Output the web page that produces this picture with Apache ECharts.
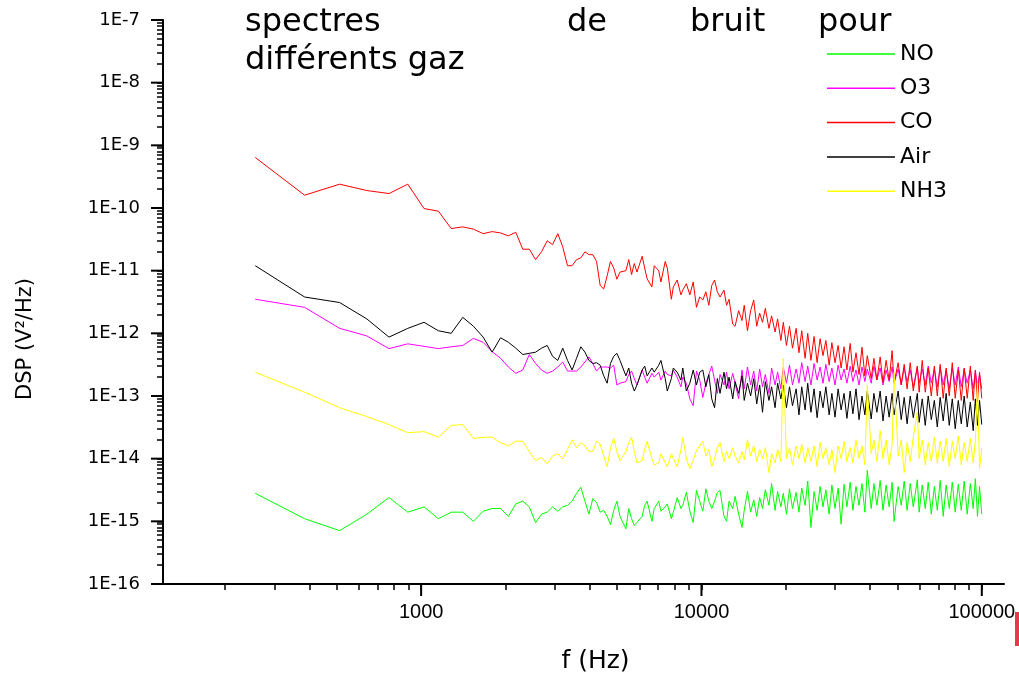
<!DOCTYPE html>
<html lang="fr">
<head>
<meta charset="UTF-8">
<title>spectres de bruit pour différents gaz</title>
<script src="https://cdn.jsdelivr.net/npm/echarts@6/dist/echarts.min.js"></script>
<style>html,body{margin:0;padding:0;background:#fff;}</style>
</head>
<body>
<div id="main" style="width:1019px;height:674px;"></div>
<script>
// frequency bins (Hz), 128 Hz resolution, thinned at high frequency
var freqs = [
  256, 384, 512, 640, 768, 896, 1024, 1152, 1280, 1408,
  1536, 1664, 1792, 1920, 2048, 2176, 2304, 2432, 2560, 2688,
  2816, 2944, 3072, 3200, 3328, 3456, 3584, 3712, 3840, 3968,
  4096, 4224, 4352, 4480, 4608, 4736, 4864, 4992, 5120,
  5376, 5504, 5632, 5760, 5888, 6144, 6272, 6400, 6656, 6784,
  7040, 7168, 7424, 7552, 7808, 7936, 8192, 8448, 8576, 8832,
  9088, 9344, 9600, 9856, 10112, 10368, 10624, 10880, 11136, 11392,
  11648, 12032, 12288, 12544, 12928, 13184, 13568, 13952, 14208, 14592,
  14976, 15360, 15744, 16128, 16512, 16896, 17408, 17792, 18304, 18688,
  19200, 19584, 20096, 20608, 21120, 21760, 22272, 22784, 23424, 23936,
  24576, 25216, 25856, 26496, 27136, 27776, 28544, 29184, 29952, 30720,
  31488, 32256, 33024, 33920, 34688, 35584, 36480, 37376, 38272, 39040,
  40320, 41216, 42240, 43392, 44416, 45568, 46720, 47872, 48640, 50304,
  51584, 52864, 54144, 55552, 56960, 58880, 59776, 61312, 62848, 64384,
  66048, 67712, 69376, 71040, 72832, 74624, 76544, 78464, 80384, 82432,
  84480, 86528, 88704, 91008, 93184, 94848, 96512, 98176, 99968
];

// DSP (V²/Hz) per gas, same order as freqs
var no = [
  2.8e-15, 1.1e-15, 7.1e-16, 1.3e-15, 2.4e-15, 1.4e-15, 1.7e-15, 1.1e-15, 1.4e-15, 1.4e-15,
  1.0e-15, 1.45e-15, 1.6e-15, 1.6e-15, 1.2e-15, 1.9e-15, 2.1e-15, 1.7e-15, 9.5e-16, 1.3e-15,
  1.4e-15, 1.7e-15, 1.45e-15, 1.7e-15, 1.8e-15, 2.1e-15, 2.8e-15, 3.5e-15, 2.1e-15, 1.3e-15,
  2.3e-15, 2.0e-15, 1.4e-15, 1.5e-15, 1.2e-15, 8.9e-16, 1.5e-15, 2.1e-15, 1.2e-15,
  7.6e-16, 1.6e-15, 1.1e-15, 8.6e-16, 9.6e-16, 1.2e-15, 1.8e-15, 2.1e-15, 1.0e-15, 1.6e-15,
  2.1e-15, 1.45e-15, 1.7e-15, 1.9e-15, 1.1e-15, 1.4e-15, 2.4e-15, 1.6e-15, 1.8e-15, 2.9e-15,
  1.45e-15, 9.6e-16, 3.1e-15, 2.1e-15, 1.45e-15, 3.3e-15, 2.1e-15, 1.6e-15, 2.1e-15, 2.9e-15,
  3.1e-15, 1.2e-15, 1.0e-15, 2.1e-15, 1.6e-15, 2.5e-15, 1.3e-15, 8.0e-16, 1.5e-15, 3.0e-15,
  1.4e-15, 2.2e-15, 1.2e-15, 2.4e-15, 1.6e-15, 3.2e-15, 1.8e-15, 4.0e-15, 1.5e-15, 3.0e-15,
  1.7e-15, 2.8e-15, 1.3e-15, 3.3e-15, 1.6e-15, 2.9e-15, 1.4e-15, 3.4e-15, 1.8e-15, 4.4e-15,
  8.0e-16, 3.0e-15, 1.5e-15, 3.6e-15, 1.7e-15, 3.2e-15, 1.3e-15, 3.8e-15, 1.6e-15, 3.4e-15,
  9.0e-16, 3.9e-15, 1.7e-15, 4.2e-15, 1.5e-15, 3.6e-15, 1.8e-15, 4.0e-15, 1.4e-15, 6.5e-15,
  1.6e-15, 4.0e-15, 1.8e-15, 4.5e-15, 1.5e-15, 3.8e-15, 1.7e-15, 4.2e-15, 1.0e-15, 3.6e-15,
  1.8e-15, 4.4e-15, 1.5e-15, 4.0e-15, 1.7e-15, 4.6e-15, 1.4e-15, 3.8e-15, 1.6e-15, 4.2e-15,
  1.3e-15, 3.6e-15, 1.5e-15, 4.5e-15, 1.2e-15, 3.8e-15, 1.6e-15, 4.2e-15, 1.4e-15, 3.9e-15,
  1.5e-15, 4.4e-15, 1.3e-15, 4.0e-15, 1.6e-15, 4.8e-15, 1.2e-15, 3.6e-15, 1.3e-15
];
var o3 = [
  3.5e-12, 2.6e-12, 1.2e-12, 9.1e-13, 5.7e-13, 6.8e-13, 6.2e-13, 5.7e-13, 6.1e-13, 6.4e-13,
  8.3e-13, 7.2e-13, 5.1e-13, 4.0e-13, 2.9e-13, 2.3e-13, 2.6e-13, 4.6e-13, 3.3e-13, 2.6e-13,
  2.3e-13, 2.5e-13, 2.9e-13, 3.5e-13, 2.5e-13, 2.5e-13, 2.5e-13, 2.9e-13, 3.5e-13, 4.2e-13,
  3.3e-13, 2.5e-13, 2.9e-13, 2.9e-13, 2.9e-13, 2.8e-13, 3.1e-13, 1.5e-13, 1.6e-13,
  1.7e-13, 2.2e-13, 2.5e-13, 1.9e-13, 1.5e-13, 2.6e-13, 2.0e-13, 1.6e-13, 2.3e-13, 2.0e-13,
  2.4e-13, 1.8e-13, 2.5e-13, 2.2e-13, 2.1e-13, 2.6e-13, 2.0e-13, 1.4e-13, 2.0e-13, 1.6e-13,
  9.0e-14, 7.0e-14, 2.5e-13, 1.8e-13, 9.5e-14, 1.6e-13, 2.2e-13, 3.0e-13, 1.8e-13, 1.1e-13,
  2.2e-13, 1.5e-13, 2.4e-13, 1.3e-13, 2.3e-13, 1.6e-13, 9.0e-14, 2.6e-13, 1.3e-13, 2.9e-13,
  1.5e-13, 2.5e-13, 1.2e-13, 2.7e-13, 1.4e-13, 2.2e-13, 1.1e-13, 2.8e-13, 1.5e-13, 2.4e-13,
  1.3e-13, 2.9e-13, 1.6e-13, 3.1e-13, 1.5e-13, 2.7e-13, 1.6e-13, 3.4e-13, 1.7e-13, 3.0e-13,
  1.5e-13, 3.3e-13, 1.8e-13, 2.9e-13, 1.6e-13, 3.2e-13, 1.7e-13, 2.8e-13, 1.5e-13, 3.1e-13,
  1.8e-13, 2.7e-13, 1.6e-13, 3.0e-13, 1.7e-13, 2.6e-13, 1.5e-13, 2.9e-13, 1.7e-13, 2.7e-13,
  1.6e-13, 3.0e-13, 1.8e-13, 2.8e-13, 1.5e-13, 2.6e-13, 1.7e-13, 2.9e-13, 1.6e-13, 2.7e-13,
  1.5e-13, 2.8e-13, 1.7e-13, 2.6e-13, 1.4e-13, 2.9e-13, 1.6e-13, 2.7e-13, 1.5e-13, 3.0e-13,
  1.6e-13, 2.7e-13, 1.4e-13, 2.9e-13, 1.5e-13, 2.6e-13, 1.3e-13, 2.8e-13, 1.5e-13, 2.9e-13,
  1.4e-13, 2.7e-13, 1.6e-13, 2.6e-13, 1.3e-13, 2.5e-13, 1.4e-13, 2.2e-13, 1.3e-13
];
var co = [
  6.4e-10, 1.6e-10, 2.4e-10, 1.9e-10, 1.7e-10, 2.4e-10, 9.8e-11, 8.9e-11, 4.7e-11, 5.0e-11,
  4.6e-11, 3.9e-11, 4.2e-11, 4.0e-11, 3.6e-11, 4.1e-11, 2.2e-11, 2.2e-11, 1.5e-11, 2.0e-11,
  3.0e-11, 2.6e-11, 3.9e-11, 2.4e-11, 1.2e-11, 1.2e-11, 1.5e-11, 1.6e-11, 2.0e-11, 1.8e-11,
  1.8e-11, 1.4e-11, 5.8e-12, 5.1e-12, 8.3e-12, 1.4e-11, 1.1e-11, 7.3e-12, 9.5e-12,
  1.0e-11, 1.5e-11, 8.7e-12, 1.3e-11, 9.5e-12, 1.7e-11, 1.1e-11, 7.4e-12, 5.5e-12, 1.2e-11,
  1.0e-11, 6.6e-12, 1.4e-11, 1.1e-11, 3.5e-12, 5.5e-12, 7.1e-12, 4.1e-12, 4.9e-12, 6.2e-12,
  4.1e-12, 6.6e-12, 2.6e-12, 3.8e-12, 3.4e-12, 4.6e-12, 2.8e-12, 5.8e-12, 7.1e-12, 4.6e-12,
  3.8e-12, 4.9e-12, 2.8e-12, 3.5e-12, 1.4e-12, 1.3e-12, 2.3e-12, 1.6e-12, 2.8e-12, 1.1e-12,
  2.3e-12, 3.4e-12, 1.3e-12, 2.1e-12, 1.5e-12, 2.5e-12, 1.2e-12, 1.9e-12, 1.05e-12, 1.7e-12,
  7.7e-13, 1.5e-12, 6.4e-13, 1.3e-12, 5.8e-13, 1.2e-12, 4.9e-13, 1.1e-12, 4.0e-13, 1.0e-12,
  3.7e-13, 8.9e-13, 3.4e-13, 8.2e-13, 4.4e-13, 7.7e-13, 3.1e-13, 7.1e-13, 3.4e-13, 6.4e-13,
  2.8e-13, 6.1e-13, 2.6e-13, 6.9e-13, 2.4e-13, 4.9e-13, 2.2e-13, 6.0e-13, 2.1e-13, 4.4e-13,
  1.9e-13, 4.0e-13, 1.8e-13, 4.2e-13, 1.65e-13, 3.7e-13, 1.8e-13, 5.3e-13, 1.6e-13, 3.4e-13,
  1.5e-13, 3.2e-13, 1.3e-13, 3.4e-13, 1.2e-13, 3.0e-13, 1.15e-13, 3.7e-13, 1.15e-13, 2.8e-13,
  1.0e-13, 3.0e-13, 1.0e-13, 3.2e-13, 9.2e-14, 2.8e-13, 1.0e-13, 3.4e-13, 9.2e-14, 2.6e-13,
  8.5e-14, 2.8e-13, 9.2e-14, 3.0e-13, 8.5e-14, 2.6e-13, 8.0e-14, 2.4e-13, 9.2e-14
];
var air = [
  1.2e-11, 3.8e-12, 3.1e-12, 1.7e-12, 8.7e-13, 1.2e-12, 1.5e-12, 1.1e-12, 1.0e-12, 1.8e-12,
  1.3e-12, 8.7e-13, 5.0e-13, 8.5e-13, 7.2e-13, 5.8e-13, 4.6e-13, 4.8e-13, 5.0e-13, 5.8e-13,
  6.4e-13, 4.3e-13, 3.7e-13, 5.8e-13, 3.7e-13, 2.6e-13, 4.0e-13, 6.1e-13, 5.0e-13, 3.7e-13,
  3.3e-13, 3.4e-13, 3.1e-13, 2.1e-13, 1.6e-13, 3.3e-13, 4.3e-13, 4.8e-13, 3.7e-13,
  2.1e-13, 2.8e-13, 1.6e-13, 1.2e-13, 1.5e-13, 2.6e-13, 3.0e-13, 2.1e-13, 2.8e-13, 2.4e-13,
  3.1e-13, 3.7e-13, 1.9e-13, 1.2e-13, 1.9e-13, 2.8e-13, 2.4e-13, 1.8e-13, 2.8e-13, 1.2e-13,
  1.6e-13, 2.6e-13, 1.5e-13, 2.4e-13, 2.6e-13, 1.4e-13, 2.2e-13, 9.0e-14, 6.5e-14, 1.9e-13,
  1.1e-13, 2.4e-13, 1.3e-13, 2.0e-13, 9.0e-14, 1.7e-13, 1.1e-13, 2.1e-13, 8.5e-14, 1.6e-13,
  1.0e-13, 1.9e-13, 7.5e-14, 1.5e-13, 5.5e-14, 1.7e-13, 8.5e-14, 1.4e-13, 6.5e-14, 1.6e-13,
  9.0e-14, 1.5e-13, 6.5e-14, 1.4e-13, 7.0e-14, 1.3e-13, 5.0e-14, 1.4e-13, 6.0e-14, 1.6e-13,
  5.5e-14, 1.3e-13, 4.5e-14, 1.2e-13, 6.5e-14, 1.4e-13, 5.0e-14, 1.1e-13, 4.6e-14, 1.3e-13,
  6.0e-14, 1.1e-13, 4.4e-14, 1.2e-13, 5.2e-14, 1.3e-13, 4.2e-14, 1.0e-13, 5.0e-14, 1.2e-13,
  4.3e-14, 1.1e-13, 5.5e-14, 1.2e-13, 4.0e-14, 1.0e-13, 4.6e-14, 1.1e-13, 5.0e-14, 1.2e-13,
  4.2e-14, 9.5e-14, 3.6e-14, 1.0e-13, 4.5e-14, 1.1e-13, 3.8e-14, 9.0e-14, 3.4e-14, 1.0e-13,
  4.2e-14, 8.5e-14, 3.2e-14, 9.5e-14, 4.0e-14, 1.1e-13, 3.4e-14, 9.0e-14, 3.0e-14, 8.5e-14,
  3.6e-14, 1.0e-13, 3.2e-14, 8.0e-14, 2.8e-14, 9.0e-14, 3.4e-14, 8.5e-14, 3.5e-14
];
var nh3 = [
  2.4e-13, 1.15e-13, 6.5e-14, 4.7e-14, 3.5e-14, 2.6e-14, 2.7e-14, 2.2e-14, 3.4e-14, 3.5e-14,
  2.1e-14, 2.2e-14, 2.2e-14, 1.8e-14, 1.6e-14, 1.9e-14, 1.9e-14, 1.3e-14, 9.3e-15, 1.05e-14,
  8.3e-15, 1.1e-14, 1.2e-14, 1.0e-14, 1.4e-14, 2.0e-14, 1.5e-14, 1.8e-14, 1.6e-14, 1.3e-14,
  1.3e-14, 1.9e-14, 1.7e-14, 1.1e-14, 7.4e-15, 1.5e-14, 2.1e-14, 1.3e-14, 9.3e-15,
  1.3e-14, 1.8e-14, 2.2e-14, 1.3e-14, 8.6e-15, 9.3e-15, 1.4e-14, 1.9e-14, 1.0e-14, 7.9e-15,
  8.6e-15, 1.2e-14, 8.6e-15, 7.4e-15, 1.2e-14, 1.0e-14, 7.4e-15, 1.4e-14, 2.2e-14, 1.0e-14,
  6.9e-15, 9.4e-15, 1.35e-14, 1.6e-14, 1.9e-14, 1.1e-14, 1.4e-14, 7.5e-15, 1.0e-14, 1.5e-14,
  1.8e-14, 9.0e-15, 1.3e-14, 1.0e-14, 1.5e-14, 1.1e-14, 8.5e-15, 1.3e-14, 9.5e-15, 2.0e-14,
  1.1e-14, 1.6e-14, 9.0e-15, 1.4e-14, 1.0e-14, 1.5e-14, 6.0e-15, 1.2e-14, 8.5e-15, 1.4e-14,
  9.0e-15, 4.0e-13, 1.0e-14, 1.5e-14, 8.0e-15, 1.6e-14, 1.0e-14, 1.7e-14, 8.5e-15, 1.5e-14,
  9.0e-15, 1.6e-14, 7.5e-15, 1.8e-14, 1.0e-14, 1.5e-14, 8.0e-15, 1.4e-14, 6.0e-15, 1.6e-14,
  1.0e-14, 1.9e-14, 9.0e-15, 1.5e-14, 8.5e-15, 2.0e-14, 1.0e-14, 1.6e-14, 8.0e-15, 1.5e-13,
  1.2e-14, 2.0e-14, 9.0e-15, 2.8e-14, 1.0e-14, 2.0e-14, 8.0e-15, 1.7e-14, 2.4e-13, 1.1e-14,
  2.0e-14, 6.0e-15, 1.8e-14, 9.0e-15, 2.2e-14, 5.5e-14, 1.0e-14, 2.0e-14, 8.0e-15, 1.8e-14,
  9.0e-15, 2.2e-14, 8.5e-15, 1.9e-14, 9.0e-15, 2.1e-14, 7.5e-15, 1.9e-14, 1.0e-14, 2.3e-14,
  8.0e-15, 1.8e-14, 9.0e-15, 2.1e-14, 8.5e-15, 1.9e-14, 1.6e-13, 7.0e-15, 1.5e-14
];

var gasNames = ['NO', 'O3', 'CO', 'Air', 'NH3'];
var gasColors = ['#00ff00', '#ff00ff', '#ff0000', '#000000', '#ffff00'];
var gasValues = [no, o3, co, air, nh3];

var xMin = 120, xMax = 120000;
var yMin = 1e-16, yMax = 1e-7;
var xMajor = [1000, 10000, 100000];
var yMajor = [1e-16, 1e-15, 1e-14, 1e-13, 1e-12, 1e-11, 1e-10, 1e-9, 1e-8, 1e-7];

// 2..9 inside each decade, for the small ticks
function minorTicks(decades, lo, hi) {
    var out = [];
    decades.forEach(function (d) {
        for (var k = 2; k <= 9; k++) {
            var v = k * d;
            if (v > lo && v < hi) out.push(v);
        }
    });
    return out;
}
var xMinor = minorTicks([100, 1000, 10000], xMin, xMax);
var yMinor = minorTicks(yMajor.slice(0, -1), yMin, yMax);

function pairs(vals) {
    return freqs.map(function (f, i) { return [f, vals[i]]; });
}

// longer ticks at the decades, placed through the axis scale
function majorTickSeries(dim, values) {
    return {
        type: 'custom',
        clip: false,
        data: values.map(function (v) { return dim === 'x' ? [v, 1e-12] : [1000, v]; }),
        renderItem: function (params, api) {
            var cs = params.coordSys;
            var p = api.coord([api.value(0), api.value(1)]);
            var shape = dim === 'x'
                ? {x: p[0] - 1, y: cs.y + cs.height, width: 2, height: 12}
                : {x: cs.x - 12, y: p[1] - 1, width: 12, height: 2};
            return {type: 'rect', shape: shape, style: {fill: '#000'}};
        }
    };
}

var myChart = echarts.init(document.getElementById('main'), null, {renderer: 'canvas'});

var titleFont = {fontFamily: 'DejaVu Sans', fontSize: 32, fontWeight: 'normal', color: '#000'};
var titleParts = [
    ['spectres', 245, 7], ['de', 567, 7], ['bruit', 690, 7], ['pour', 818, 7],
    ['différents gaz', 245, 45]
];

var series = gasNames.map(function (name, i) {
    return {
        name: name,
        type: 'line',
        data: pairs(gasValues[i]),
        symbol: 'none',
        lineStyle: {width: 1, color: gasColors[i]},
        itemStyle: {color: gasColors[i]}
    };
});
series.push(majorTickSeries('x', xMajor));
series.push(majorTickSeries('y', yMajor));

myChart.setOption({
    animation: false,
    backgroundColor: '#fff',
    title: titleParts.map(function (t) {
        return {text: t[0], left: t[1], top: t[2], padding: 0, textStyle: titleFont};
    }),
    legend: {
        orient: 'vertical',
        left: 827,
        top: 43,
        padding: 0,
        icon: 'rect',
        itemWidth: 68,
        itemHeight: 1.5,
        itemGap: 12.3,
        itemTextGap: 9,
        textStyle: {fontFamily: 'DejaVu Sans', fontSize: 22, lineHeight: 22, color: '#000'},
        data: gasNames
    },
    grid: {left: 163, right: 15, top: 20, bottom: 90, containLabel: false, outerBoundsMode: 'none'},
    xAxis: {
        type: 'log',
        logBase: 10,
        min: xMin,
        max: xMax,
        position: 'bottom',
        name: 'f (Hz)',
        nameLocation: 'middle',
        nameGap: 65,
        nameTextStyle: {fontFamily: 'DejaVu Sans', fontSize: 25, color: '#000', padding: [0, 0, 0, 24]},
        axisLine: {lineStyle: {color: '#000', width: 2}},
        axisTick: {customValues: xMajor.concat(xMinor), length: 6, lineStyle: {color: '#000', width: 1.5}},
        axisLabel: {
            customValues: xMajor, margin: 18, color: '#000',
            fontFamily: 'Liberation Sans', fontSize: 20,
            formatter: function (v) { return String(v); }
        },
        splitLine: {show: false},
        minorTick: {show: false}
    },
    yAxis: {
        type: 'log',
        logBase: 10,
        min: yMin,
        max: yMax,
        position: 'left',
        name: 'DSP (V²/Hz)',
        nameLocation: 'middle',
        nameGap: 127,
        nameTextStyle: {fontFamily: 'DejaVu Sans', fontSize: 21, color: '#000', padding: [0, 74, 0, 0]},
        axisLine: {lineStyle: {color: '#000', width: 2}},
        axisTick: {customValues: yMajor.concat(yMinor), length: 6, lineStyle: {color: '#000', width: 1.5}},
        axisLabel: {
            customValues: yMajor, margin: 23, color: '#000',
            fontFamily: 'DejaVu Sans', fontSize: 18,
            formatter: function (v) { return '1E' + Math.round(Math.log10(v)); }
        },
        splitLine: {show: false},
        minorTick: {show: false}
    },
    series: series,
    graphic: [{
        type: 'rect',
        shape: {x: 1015, y: 612, width: 4, height: 34},
        style: {fill: '#e63a4c'}
    }]
});
</script>
</body>
</html>
